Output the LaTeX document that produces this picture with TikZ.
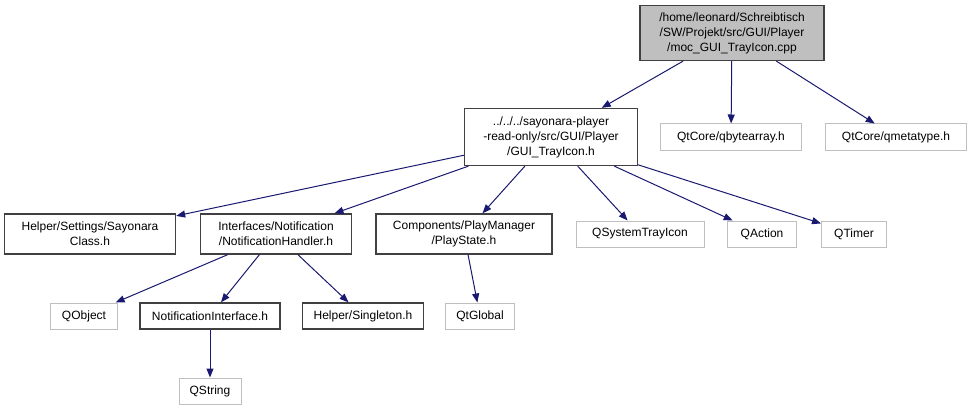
\documentclass[tikz,border=0pt]{standalone}
\usepackage{fontspec}
\setmainfont{Liberation Sans}
\usetikzlibrary{arrows.meta}
\definecolor{Edge} {HTML}{191970}
\definecolor{DGray}{HTML}{404040}
\definecolor{LGray}{HTML}{BFBFBF}
\tikzset{
  hdr/.style={
    rectangle, draw=DGray, fill=white, line width=1.3pt,
    font=\fontsize{12}{15}\selectfont, align=center,
    inner sep=2pt, minimum height=26pt,
  },
  cur/.style={hdr, fill=LGray},
  % external header, not documented
  ext/.style={hdr, draw=LGray, line width=1pt},
  dep/.style={
    -{Triangle[length=9pt,width=7pt]},
    line width=1pt, color=Edge,
  },
}
\begin{document}
\begin{tikzpicture}[x=1pt,y=-1pt]
  \useasboundingbox (0,0) rectangle (971,409);

  \node[cur, minimum width=184pt, minimum height=55pt] (moc) at (732,33)
        {/home/leonard/Schreibtisch\\/SW/Projekt/src/GUI/Player\\/moc\_GUI\_TrayIcon.cpp};

  \node[hdr, minimum width=173pt, minimum height=57pt] (tray) at (551,137)
        {../../../sayonara-player\\-read-only/src/GUI/Player\\/GUI\_TrayIcon.h};
  \node[ext, minimum width=141pt] (qba) at (731,137) {QtCore/qbytearray.h};
  \node[ext, minimum width=141pt] (qmt) at (896,137) {QtCore/qmetatype.h};

  \node[hdr, minimum width=171pt, minimum height=40pt] (sayo) at (90,234)
        {Helper/Settings/Sayonara\\Class.h};
  \node[hdr, minimum width=151pt, minimum height=40pt] (nhdl) at (276,234)
        {Interfaces/Notification\\/NotificationHandler.h};
  \node[hdr, minimum width=176pt, minimum height=40pt] (pst) at (464,234)
        {Components/PlayManager\\/PlayState.h};
  \node[ext, minimum width=128pt] (sti)  at (640,234) {QSystemTrayIcon};
  \node[ext, minimum width=69pt]  (qact) at (762,234) {QAction};
  \node[ext, minimum width=65pt]  (qtim) at (854,234) {QTimer};

  \node[ext, minimum width=67pt]  (qobj) at (84,316)  {QObject};
  \node[hdr, minimum width=140pt] (nif)  at (210,316) {NotificationInterface.h};
  \node[hdr, minimum width=121pt] (sgl)  at (363,316) {Helper/Singleton.h};
  \node[ext, minimum width=69pt]  (qglb) at (480,316) {QtGlobal};

  \node[ext, minimum width=62pt]  (qstr) at (210,391) {QString};

  \draw[dep] (moc) -- (tray);
  \draw[dep] (moc) -- (qba);
  \draw[dep] (moc) -- (qmt);

  \draw[dep] (tray) -- (sayo);
  \draw[dep] (tray) -- (nhdl);
  \draw[dep] (tray) -- (pst);
  \draw[dep] (tray) -- (sti);
  \draw[dep] (tray) -- (qact);
  \draw[dep] (tray) -- (qtim);

  \draw[dep] (nhdl) -- (qobj);
  \draw[dep] (nhdl) -- (nif);
  \draw[dep] (nhdl) -- (sgl);
  \draw[dep] (pst) -- (qglb);
  \draw[dep] (nif) -- (qstr);

\end{tikzpicture}
\end{document}
